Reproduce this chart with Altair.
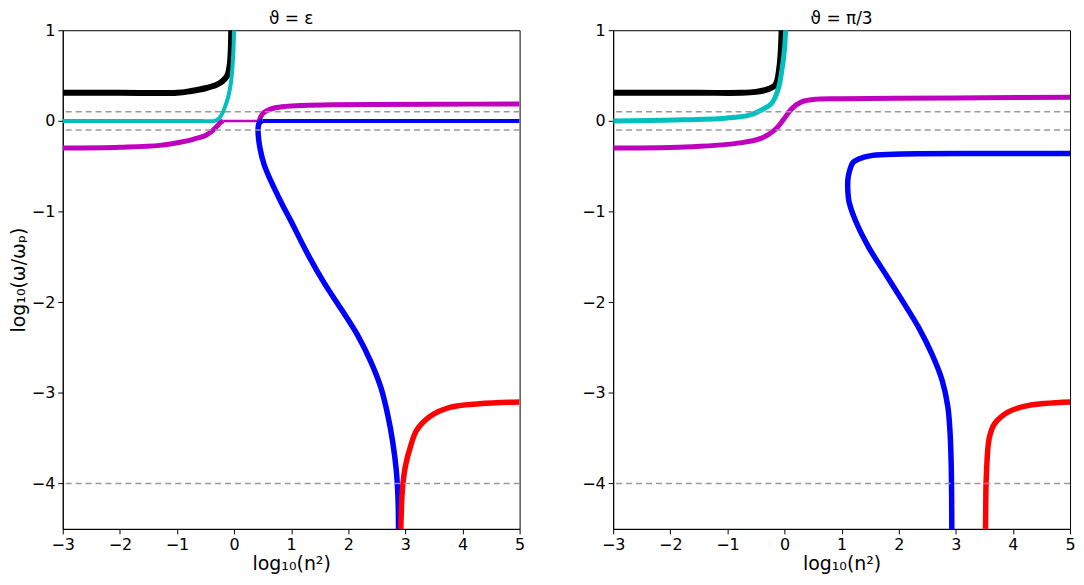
import altair as alt
import pandas as pd

X_TICKS = [-3, -2, -1, 0, 1, 2, 3, 4, 5]
Y_TICKS = [1, 0, -1, -2, -3, -4]
REF_LEVELS = [0.1, -0.1, -4.0]
TITLES = ["ϑ = ε", "ϑ = π/3"]
X_TITLE = "log₁₀(n²)"
Y_TITLE = "log₁₀(ω/ωₚ)"

# ---------------- left panel (theta = epsilon) ----------------
L_BLACK_X = [-3.0, -2.0, -1.0, -0.75, -0.5, -0.3, -0.2, -0.12, -0.08, -0.06, -0.05]
L_BLACK_Y = [0.31, 0.31, 0.31, 0.33, 0.36, 0.40, 0.44, 0.50, 0.60, 0.75, 1.0]

L_CYAN_X = [-3.0, -1.5, -0.6, -0.34, -0.26, -0.2, -0.15, -0.1, -0.06, -0.03, -0.01, 0.0]
L_CYAN_Y = [0.0, 0.0, 0.0, 0.0, 0.03, 0.09, 0.17, 0.27, 0.40, 0.58, 0.8, 1.0]

L_MAG_LOW_X = [-3.0, -2.0, -1.3, -0.9, -0.7, -0.5, -0.38, -0.3, -0.24, -0.19]
L_MAG_LOW_Y = [-0.30, -0.29, -0.27, -0.23, -0.20, -0.16, -0.11, -0.06, -0.02, 0.0]
L_MAG_ZERO_X = [-0.19, 0.44]
L_MAG_ZERO_Y = [0.0, 0.0]
L_MAG_HIGH_X = [0.44, 0.47, 0.52, 0.6, 0.72, 0.9, 1.2, 1.7, 2.5, 3.5, 5.0]
L_MAG_HIGH_Y = [0.0, 0.05, 0.09, 0.12, 0.145, 0.16, 0.17, 0.178, 0.182, 0.184, 0.186]

L_BLUE_ZERO_X = [0.5, 5.0]
L_BLUE_ZERO_Y = [0.0, 0.0]
L_BLUE_DOWN_X = [0.5, 0.46, 0.43, 0.42, 0.43, 0.46, 0.52, 0.6, 0.71, 0.85, 1.0, 1.29,
                 1.58, 1.87, 2.16, 2.39, 2.57, 2.69, 2.78, 2.84, 2.87, 2.88]
L_BLUE_DOWN_Y = [0.0, -0.01, -0.04, -0.1, -0.2, -0.32, -0.47, -0.6, -0.75, -0.93, -1.11, -1.47,
                 -1.79, -2.07, -2.36, -2.65, -2.94, -3.24, -3.55, -3.85, -4.15, -4.5]

L_RED_X = [2.92, 2.93, 2.95, 3.0, 3.09, 3.2, 3.43, 3.78, 4.3, 5.0]
L_RED_Y = [-4.5, -4.3, -4.05, -3.81, -3.59, -3.41, -3.26, -3.16, -3.12, -3.10]

# ---------------- right panel (theta = pi/3) ----------------
R_BLACK_X = [-3.0, -1.5, -0.75, -0.5, -0.34, -0.17, -0.13, -0.10, -0.07, -0.05]
R_BLACK_Y = [0.31, 0.31, 0.31, 0.32, 0.34, 0.39, 0.44, 0.54, 0.72, 1.0]

R_CYAN_X = [-3.0, -1.91, -1.04, -0.63, -0.40, -0.23, -0.11, -0.05, 0.0, 0.02]
R_CYAN_Y = [0.0, 0.01, 0.03, 0.06, 0.12, 0.19, 0.35, 0.54, 0.79, 1.0]

R_MAG_X = [-3.0, -1.62, -0.75, -0.40, -0.17, 0.0, 0.12, 0.30, 0.58, 1.0, 2.0, 3.5, 5.0]
R_MAG_Y = [-0.30, -0.285, -0.24, -0.19, -0.10, 0.03, 0.13, 0.21, 0.24, 0.245, 0.25, 0.255, 0.26]

R_BLUE_X = [5.0, 3.5, 2.06, 1.54, 1.30, 1.20, 1.14, 1.11, 1.11, 1.13, 1.25, 1.48, 1.77,
            2.06, 2.35, 2.58, 2.76, 2.86, 2.90, 2.92, 2.93]
R_BLUE_Y = [-0.36, -0.36, -0.365, -0.38, -0.42, -0.46, -0.55, -0.65, -0.78, -0.89, -1.11, -1.40, -1.69,
            -1.98, -2.28, -2.57, -2.86, -3.15, -3.45, -3.81, -4.5]

R_RED_X = [3.52, 3.525, 3.53, 3.57, 3.6, 3.68, 3.92, 4.26, 5.0]
R_RED_Y = [-4.5, -4.2, -3.99, -3.56, -3.46, -3.34, -3.21, -3.14, -3.10]

BLACK, CYAN, MAGENTA, BLUE, RED = "#000000", "#00bfbf", "#bf00bf", "#0000ff", "#ff0000"

LEFT_CURVES = [
    (L_BLACK_X, L_BLACK_Y, BLACK, 6.0),
    (L_CYAN_X, L_CYAN_Y, CYAN, 4.0),
    (L_MAG_LOW_X, L_MAG_LOW_Y, MAGENTA, 5.0),
    (L_MAG_ZERO_X, L_MAG_ZERO_Y, MAGENTA, 2.5),
    (L_MAG_HIGH_X, L_MAG_HIGH_Y, MAGENTA, 5.0),
    (L_BLUE_ZERO_X, L_BLUE_ZERO_Y, BLUE, 4.0),
    (L_BLUE_DOWN_X, L_BLUE_DOWN_Y, BLUE, 5.5),
    (L_RED_X, L_RED_Y, RED, 5.5),
]
RIGHT_CURVES = [
    (R_BLACK_X, R_BLACK_Y, BLACK, 6.0),
    (R_CYAN_X, R_CYAN_Y, CYAN, 5.0),
    (R_MAG_X, R_MAG_Y, MAGENTA, 5.0),
    (R_BLUE_X, R_BLUE_Y, BLUE, 5.5),
    (R_RED_X, R_RED_Y, RED, 5.5),
]

PANEL_W = 459
PANEL_H = 501


def panel(curves, title, y_title):
    xscale = alt.Scale(domain=[-3, 5], nice=False, zero=False)
    yscale = alt.Scale(domain=[-4.5, 1], nice=False, zero=False)
    xaxis = alt.Axis(values=X_TICKS, title=X_TITLE, labelFlush=False, grid=False, titlePadding=2)
    if y_title:
        yaxis = alt.Axis(values=Y_TICKS, title=Y_TITLE, labelFlush=False, grid=False, titlePadding=3)
    else:
        yaxis = alt.Axis(values=Y_TICKS, title=None, labelFlush=False, grid=False)
    layers = []
    for xs, ys, color, width in curves:
        df = pd.DataFrame({"x": xs, "y": ys, "i": list(range(len(xs)))})
        layers.append(
            alt.Chart(df).mark_line(color=color, strokeWidth=width,
                                    interpolate="catmull-rom", clip=True).encode(
                x=alt.X("x:Q", scale=xscale, axis=xaxis),
                y=alt.Y("y:Q", scale=yscale, axis=yaxis),
                order=alt.Order("i:Q"),
            )
        )
    rules = alt.Chart(pd.DataFrame({"y": REF_LEVELS})).mark_rule(
        color="#999999", strokeDash=[6, 4], strokeWidth=1.5
    ).encode(y=alt.Y("y:Q", scale=yscale, axis=yaxis))
    layers.append(rules)
    return alt.layer(*layers).properties(
        width=PANEL_W, height=PANEL_H,
        title=alt.TitleParams(text=title, frame="group", offset=-6),
    )


left = panel(LEFT_CURVES, TITLES[0], True)
right = panel(RIGHT_CURVES, TITLES[1], False)

chart = alt.hconcat(left, right, spacing=55, padding=0).configure(
    font="DejaVu Sans"
).configure_view(
    stroke="black", strokeWidth=1
).configure_axis(
    labelFont="DejaVu Sans", titleFont="DejaVu Sans",
    labelFontSize=16, titleFontSize=19, titleFontWeight="normal",
    labelColor="black", titleColor="black",
    domainColor="black", tickColor="black", tickSize=5, labelPadding=3,
).configure_title(
    font="DejaVu Sans", fontSize=17, fontWeight="normal", color="black"
)

chart.save("out.html", embed_options={"renderer": "svg", "actions": False})
